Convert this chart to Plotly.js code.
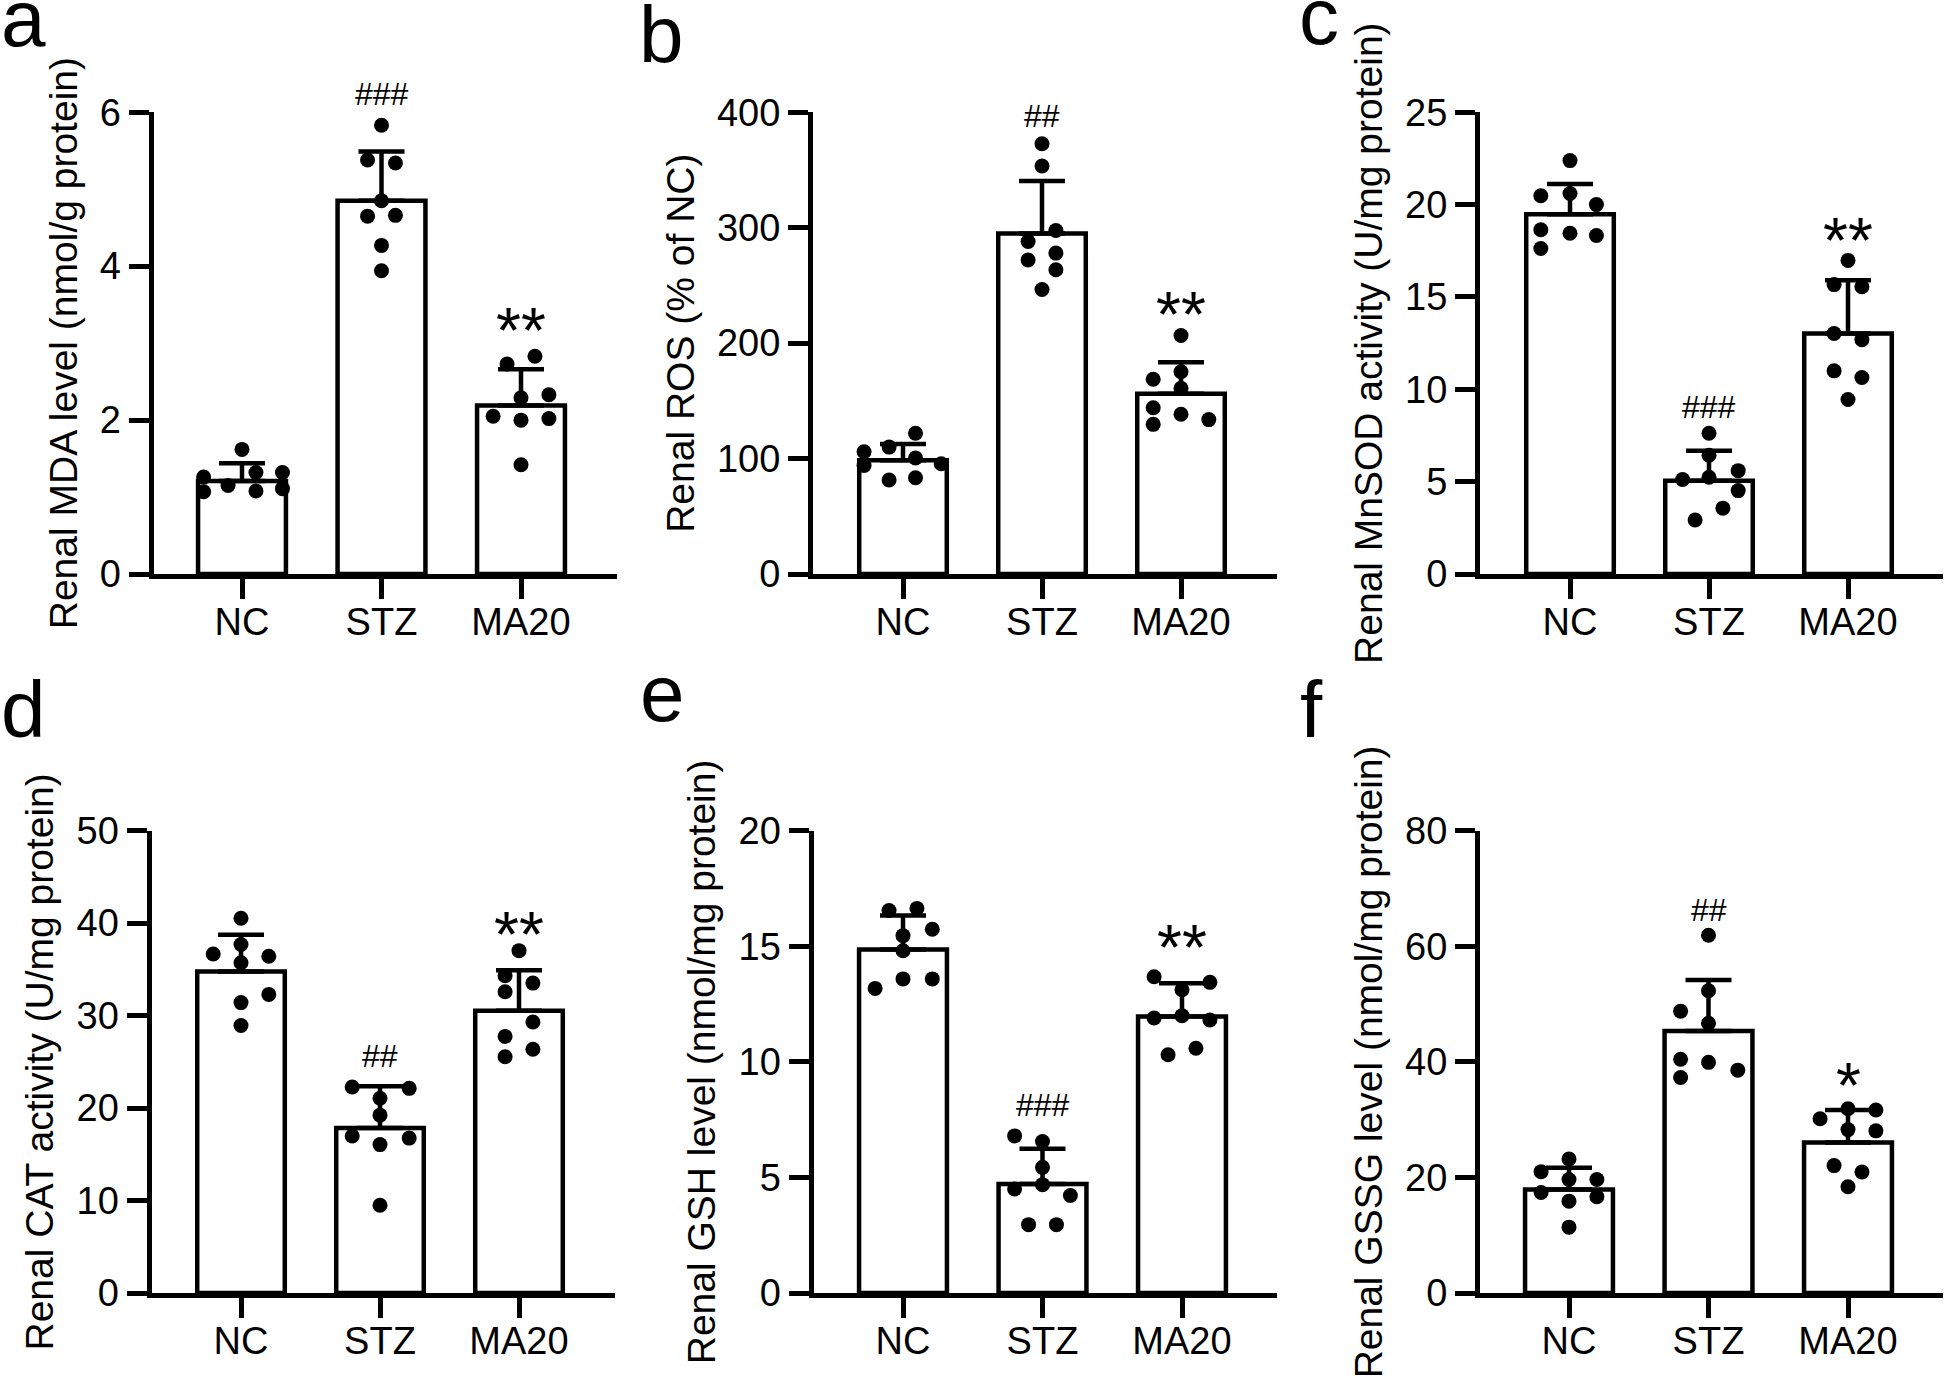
<!DOCTYPE html>
<html><head><meta charset="utf-8">
<script src="https://cdn.plot.ly/plotly-3.0.1.min.js"></script>
<style>html,body{margin:0;padding:0;background:#fff;} #chart{width:1946px;height:1383px;}</style>
</head><body><div id="chart"></div>
<script>
// ---------- data ----------
const groups = ['NC', 'STZ', 'MA20'];

// a: Renal MDA level
const mdaMean = [1.21, 4.85, 2.19];
const mdaSD = [0.23, 0.64, 0.47];
const mdaPts = [
  [1.62, 1.26, 1.07, 1.15, 1.32, 1.08, 1.32, 1.11],
  [5.83, 5.38, 5.34, 4.85, 4.65, 4.66, 4.27, 3.94],
  [2.73, 2.83, 2.29, 2.33, 2.05, 2.00, 2.02, 1.42]];
const mdaJit = [
  [0, -0.275, -0.275, -0.1, 0.1, 0.1, 0.29, 0.29],
  [0, -0.1, 0.1, 0, -0.1, 0.1, 0, 0],
  [-0.1, 0.1, 0, 0.2, -0.2, 0, 0.2, 0]];
const mdaSig = ['', '###', '**'];
const mdaSigY = [null, 6.23, 3.2];

// b: Renal ROS
const rosMean = [98.6, 295, 156.2];
const rosSD = [14, 45.5, 27.3];
const rosPts = [
  [122, 106, 110, 100.5, 94, 95.5, 81.5, 83.4],
  [372.7, 353.4, 297.6, 288, 278, 272, 263.5, 246.4],
  [206.6, 175.2, 168.7, 161, 144, 138.4, 133.8, 129.7]];
const rosJit = [
  [0.09, -0.28, -0.1, 0.09, -0.28, 0.275, -0.1, 0.09],
  [0, 0, 0.1, -0.1, 0.1, -0.1, 0.1, 0],
  [0, 0, -0.2, 0, -0.2, 0, 0.2, -0.2]];
const rosSig = ['', '##', '**'];
const rosSigY = [null, 397, 226.7];

// c: Renal MnSOD activity
const sodMean = [19.48, 5.05, 13.02];
const sodSD = [1.64, 1.62, 2.88];
const sodPts = [
  [22.38, 20.48, 20.6, 20.0, 18.64, 18.45, 18.33, 17.62],
  [7.62, 6.43, 5.12, 5.24, 5.6, 4.52, 3.57, 2.93],
  [16.98, 15.67, 15.55, 13.02, 12.69, 11.0, 10.64, 9.45]];
const sodJit = [
  [0, -0.21, 0, 0.19, -0.21, 0, 0.19, -0.21],
  [0, 0, -0.19, 0, 0.21, 0.21, 0.1, -0.1],
  [0, -0.1, 0.1, -0.1, 0.1, -0.1, 0.1, 0]];
const sodSig = ['', '###', '**'];
const sodSigY = [null, 9.05, 18.2];

// d: Renal CAT activity
const catMean = [34.78, 17.84, 30.52];
const catSD = [3.98, 4.54, 4.4];
const catPts = [
  [40.54, 36.66, 37.69, 36.42, 35.72, 32.3, 31.41, 28.93],
  [22.28, 22.14, 21.07, 19.24, 16.99, 16.76, 16.06, 9.5],
  [37.03, 34.32, 33.52, 32.58, 29.31, 27.76, 26.36, 25.56]];
const catJit = [
  [0, -0.2, 0, 0.2, 0, 0.2, 0, 0],
  [-0.2, 0.21, 0, 0, -0.2, 0.21, 0, 0],
  [0, -0.1, 0.1, -0.1, 0.1, -0.1, 0.1, -0.1]];
const catSig = ['', '##', '**'];
const catSigY = [null, 25.66, 39.0];

// e: Renal GSH level
const gshMean = [14.86, 4.72, 11.96];
const gshSD = [1.47, 1.52, 1.44];
const gshPts = [
  [16.55, 16.64, 15.74, 15.46, 14.81, 13.18, 13.59, 13.59],
  [6.8, 6.56, 5.44, 4.5, 4.69, 4.22, 2.96, 2.96],
  [13.68, 13.44, 13.12, 11.9, 12.0, 11.81, 10.31, 10.59]];
const gshJit = [
  [-0.1, 0.1, 0.21, 0, 0, -0.2, 0, 0.21],
  [-0.2, 0, 0, -0.2, 0, 0.2, -0.1, 0.1],
  [-0.2, 0.2, 0, -0.2, 0, 0.2, -0.1, 0.1]];
const gshSig = ['', '###', '**'];
const gshSigY = [null, 8.15, 15.05];

// f: Renal GSSG level
const gssgMean = [17.94, 45.33, 26.04];
const gssgSD = [3.75, 8.85, 5.63];
const gssgPts = [
  [23.19, 21.01, 19.66, 19.66, 17.41, 15.91, 16.66, 11.41],
  [61.91, 52.31, 48.78, 46.68, 40.45, 39.92, 38.57, 37.3],
  [31.9, 31.67, 30.17, 28.29, 28.07, 22.06, 20.94, 18.39]];
const gssgJit = [
  [0, -0.2, 0.2, 0, -0.2, 0, 0.2, 0],
  [0, 0, -0.2, 0, -0.2, 0, 0.21, -0.2],
  [0, 0.2, -0.2, 0, 0.2, -0.1, 0.1, 0]];
const gssgSig = ['', '##', '*'];
const gssgSigY = [null, 66.3, 36.4];

const yTitles = [
  'Renal MDA level (nmol/g protein)',
  'Renal ROS (% of NC)',
  'Renal MnSOD activity (U/mg protein)',
  'Renal CAT activity (U/mg protein)',
  'Renal GSH level (nmol/mg protein)',
  'Renal GSSG level (nmol/mg protein)'];
const yMax = [6, 400, 25, 50, 20, 80];
const yStep = [2, 100, 5, 10, 5, 20];
const panelLetters = ['a', 'b', 'c', 'd', 'e', 'f'];

// ---------- layout geometry (px) ----------
const W = 1946, H = 1383;
const LW = 5;
// [yAxisLineX, cat0X, cat2X, xAxisRightEnd, topY, zeroLineY]
const geom = [
  [151, 242, 521, 617, 112.2, 576.6],
  [810.5, 903, 1181, 1277, 112.2, 576.6],
  [1477.5, 1570, 1848, 1943, 112.2, 576.6],
  [149, 241, 519, 615, 830.7, 1295.6],
  [811, 903, 1182, 1277, 830.7, 1295.6],
  [1477.5, 1569, 1848, 1943, 830.7, 1295.6]];
// letter positions [x ink-left, baseline]
const letterPos = [[-1, 46], [637, 62], [1297, 44], [-1, 737], [638, 721], [1298, 737]];

const means = [mdaMean, rosMean, sodMean, catMean, gshMean, gssgMean];
const sds = [mdaSD, rosSD, sodSD, catSD, gshSD, gssgSD];
const pts = [mdaPts, rosPts, sodPts, catPts, gshPts, gssgPts];
const jits = [mdaJit, rosJit, sodJit, catJit, gshJit, gssgJit];
const sigs = [mdaSig, rosSig, sodSig, catSig, gshSig, gssgSig];
const sigYs = [mdaSigY, rosSigY, sodSigY, catSigY, gshSigY, gssgSigY];

const FONT = 'Liberation Sans, Arial, sans-serif';
const traces = [];
const layout = {
  width: W, height: H,
  margin: {l: 0, r: 0, t: 0, b: 0, pad: 0},
  paper_bgcolor: '#ffffff', plot_bgcolor: 'rgba(0,0,0,0)',
  showlegend: false,
  font: {family: FONT, color: '#000'},
  annotations: []
};

for (let i = 0; i < 6; i++) {
  const n = i + 1;
  const sfx = n === 1 ? '' : String(n);
  const xa = 'x' + sfx, ya = 'y' + sfx;
  const [axX, c0, c2, right, top, zero] = geom[i];
  const s = (c2 - c0) / 2;
  const L = axX + LW / 2;
  const B = zero - LW / 2;
  const xr = [-(c0 - L) / s, 2 + (right - c2) / s];

  traces.push({
    type: 'bar', x: [0, 1, 2], y: means[i], width: 0.63,
    xaxis: xa, yaxis: ya,
    marker: {color: '#ffffff', line: {color: '#000', width: 4.5}},
    error_y: {type: 'data', symmetric: false, array: sds[i], arrayminus: [0, 0, 0],
              color: '#000', thickness: 4.5, width: 23},
    hoverinfo: 'skip'
  });
  const dx = [], dy = [];
  for (let g = 0; g < 3; g++) {
    pts[i][g].forEach((v, k) => { dx.push(g + jits[i][g][k]); dy.push(v); });
  }
  traces.push({
    type: 'scatter', mode: 'markers', x: dx, y: dy, xaxis: xa, yaxis: ya,
    marker: {color: '#000', size: 15}, cliponaxis: false, hoverinfo: 'skip'
  });

  const axCommon = {
    showgrid: false, zeroline: false, showline: true, linewidth: LW, linecolor: '#000',
    ticks: 'outside', ticklen: 20, tickwidth: LW, tickcolor: '#000',
    tickfont: {family: FONT, size: 38, color: '#000'}, fixedrange: true
  };
  layout['xaxis' + sfx] = Object.assign({}, axCommon, {
    domain: [L / W, right / W], range: xr, anchor: ya,
    tickmode: 'array', tickvals: [0, 1, 2], ticktext: groups, ticklabelstandoff: -10
  });
  layout['yaxis' + sfx] = Object.assign({}, axCommon, {
    domain: [1 - B / H, 1 - top / H], range: [0, yMax[i]], anchor: xa,
    tickmode: 'linear', tick0: 0, dtick: yStep[i],
    title: {text: yTitles[i], font: {family: FONT, size: 39, color: '#000'}, standoff: 12}
  });

  for (let g = 0; g < 3; g++) {
    if (!sigs[i][g]) continue;
    const isStar = sigs[i][g].indexOf('*') >= 0;
    const fs = isStar ? 64 : 32;
    layout.annotations.push({
      xref: xa, yref: ya + ' domain', x: g, y: sigYs[i][g] / yMax[i], text: sigs[i][g],
      showarrow: false, xanchor: 'center', yanchor: 'middle', yshift: isStar ? -3 : 0,
      font: {family: FONT, size: fs, color: '#000'}
    });
  }
  const [lx, lb] = letterPos[i];
  layout.annotations.push({
    xref: 'paper', yref: 'paper', x: lx / W, y: 1 - (lb - 0.3465 * 80) / H,
    xanchor: 'left', yanchor: 'middle', text: panelLetters[i], showarrow: false,
    font: {family: FONT, size: 80, color: '#000'}
  });
}

Plotly.newPlot('chart', traces, layout, {staticPlot: true, displayModeBar: false});
</script>
</body></html>
